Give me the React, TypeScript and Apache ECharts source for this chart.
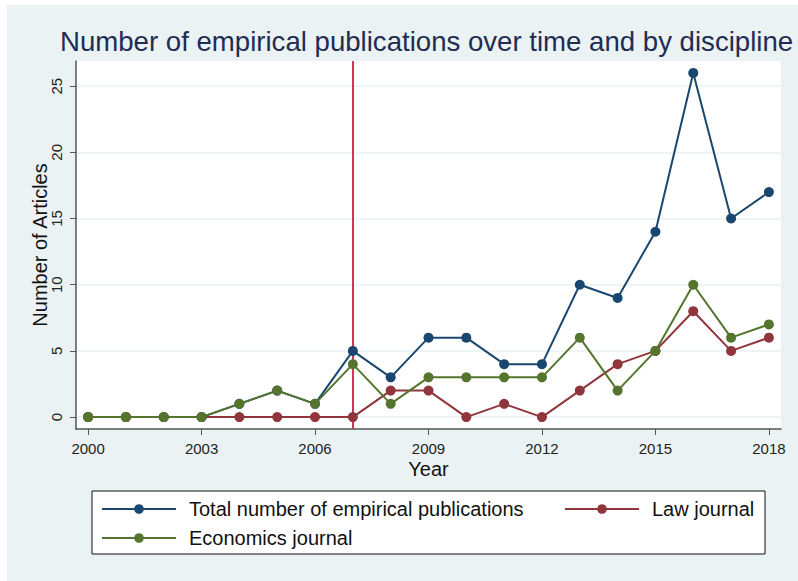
import React, { useEffect, useRef } from "react";
import * as echarts from "echarts";

const years = [2000, 2001, 2002, 2003, 2004, 2005, 2006, 2007, 2008, 2009, 2010, 2011, 2012, 2013, 2014, 2015, 2016, 2017, 2018];
const totalValues = [0, 0, 0, 0, 1, 2, 1, 5, 3, 6, 6, 4, 4, 10, 9, 14, 26, 15, 17];
const lawValues = [0, 0, 0, 0, 0, 0, 0, 0, 2, 2, 0, 1, 0, 2, 4, 5, 8, 5, 6];
const econValues = [0, 0, 0, 0, 1, 2, 1, 4, 1, 3, 3, 3, 3, 6, 2, 5, 10, 6, 7];
const xTicks = [2000, 2003, 2006, 2009, 2012, 2015, 2018];
const yTicks = [0, 5, 10, 15, 20, 25];
const markerYear = 2007;

const seriesNames = ["Total number of empirical publications", "Law journal", "Economics journal"];
const seriesColors = ["#1a476f", "#90353b", "#55752f"];

const FONT = "Liberation Sans, Arial, sans-serif";

export default function App() {
  const ref = useRef<HTMLDivElement>(null);
  useEffect(() => {
    if (!ref.current) return;
    const chart = echarts.init(ref.current, null, { renderer: "svg" });
    const mk = (name: string, vals: number[], color: string, extra: any = {}) => ({
      name,
      type: "line",
      data: years.map((y, i) => [y, vals[i]]),
      symbol: "circle",
      symbolSize: 10,
      lineStyle: { color, width: 2 },
      itemStyle: { color },
      z: 3,
      ...extra,
    });
    const legendBase = {
      orient: "horizontal",
      padding: 0,
      itemWidth: 74,
      itemHeight: 12,
      textStyle: { fontFamily: FONT, fontSize: 20, color: "#111", padding: [0, 0, 0, 8] },
      selectedMode: false,
    };
    chart.setOption({
      animation: false,
      backgroundColor: "#ffffff",
      title: {
        text: "Number of empirical publications over time and by discipline",
        left: 60,
        top: 27,
        padding: 0,
        textStyle: { fontFamily: FONT, fontSize: 27.6, fontWeight: "normal", color: "#1f2d52" },
      },
      graphic: [
        { type: "rect", z: -10, shape: { x: 7, y: 5, width: 791, height: 576 }, style: { fill: "#eaf2f3" } },
        { type: "rect", z: -5, shape: { x: 92, y: 491, width: 673, height: 63 }, style: { fill: "#ffffff", stroke: "#111", lineWidth: 1 } },
      ],
      legend: [
        { ...legendBase, data: [seriesNames[0]], left: 101, top: 499 },
        { ...legendBase, data: [seriesNames[1]], left: 564, top: 499 },
        { ...legendBase, data: [seriesNames[2]], left: 101, top: 528 },
      ],
      grid: {
        left: 76,
        top: 61,
        right: 17,
        bottom: 152,
        show: true,
        backgroundColor: "#ffffff",
        borderWidth: 0,
      },
      xAxis: {
        type: "value",
        min: 1999.68,
        max: 2018.32,
        name: "Year",
        nameLocation: "middle",
        nameGap: 30,
        nameMoveOverlap: false,
        nameTextStyle: { fontFamily: FONT, fontSize: 20, color: "#111" },
        axisLine: { show: true, onZero: false, lineStyle: { color: "#555", width: 1.5 } },
        axisTick: { show: true, length: 6, lineStyle: { color: "#555" }, customValues: xTicks },
        axisLabel: { customValues: xTicks, fontFamily: FONT, fontSize: 15, color: "#222", margin: 12, formatter: (v: number) => String(Math.round(v)) },
        splitLine: { show: false },
      },
      yAxis: {
        type: "value",
        min: -0.9,
        max: 26.9,
        name: "Number of Articles",
        nameLocation: "middle",
        nameGap: 26,
        nameMoveOverlap: false,
        nameTextStyle: { fontFamily: FONT, fontSize: 20, color: "#111" },
        axisLine: { show: true, onZero: false, lineStyle: { color: "#555", width: 1.5 } },
        axisTick: { show: true, length: 6, lineStyle: { color: "#555" }, customValues: yTicks },
        axisLabel: { customValues: yTicks, rotate: 90, fontFamily: FONT, fontSize: 15, color: "#222", margin: 12 },
        splitLine: { show: true, lineStyle: { color: "#eaf2f3", width: 1.5 } },
      },
      series: [
        mk(seriesNames[0], totalValues, seriesColors[0], {
          markLine: {
            silent: true,
            symbol: "none",
            label: { show: false },
            lineStyle: { color: "#d1335b", width: 2, type: "solid" },
            data: [{ xAxis: markerYear }],
            z: 1,
          },
        }),
        mk(seriesNames[1], lawValues, seriesColors[1]),
        mk(seriesNames[2], econValues, seriesColors[2]),
      ],
    });
    return () => chart.dispose();
  }, []);
  return <div ref={ref} style={{ position: "fixed", left: 0, top: 0, width: 798, height: 581 }} />;
}
